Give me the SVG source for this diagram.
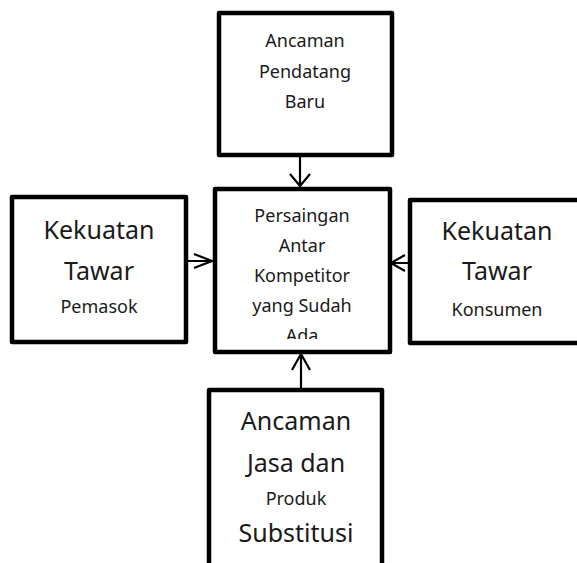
<svg xmlns="http://www.w3.org/2000/svg" width="577" height="563" viewBox="0 0 577 563">
<style>
.box{fill:#fff;stroke:#000;stroke-width:4.5;stroke-linejoin:round}
text{font-family:"Noto Sans","Open Sans",sans-serif;fill:#1a1a1a;text-anchor:middle}
.s{font-size:18px}
.l{font-size:25px}
.xl{font-size:25px}
.c{fill:none;stroke:#000;stroke-width:2.2}
</style>
<defs>
<clipPath id="cc"><rect x="217" y="191" width="171" height="148"/></clipPath>
</defs>
<rect width="577" height="563" fill="#fff"/>
<g id="top">
<rect class="box" x="219" y="13" width="173" height="142"/>
<text class="s" x="305" y="47">Ancaman</text>
<text class="s" x="305" y="78">Pendatang</text>
<text class="s" x="305" y="108">Baru</text>
</g>
<g id="center">
<rect class="box" x="215" y="189" width="175" height="163"/>
<g clip-path="url(#cc)">
<text class="s" x="302" y="222">Persaingan</text>
<text class="s" x="302" y="252">Antar</text>
<text class="s" x="302" y="282">Kompetitor</text>
<text class="s" x="302" y="312">yang Sudah</text>
<text class="s" x="302" y="342">Ada</text>
</g>
</g>
<g id="left">
<rect class="box" x="12" y="197" width="174" height="145"/>
<text class="l" x="99" y="239">Kekuatan</text>
<text class="l" x="99" y="280">Tawar</text>
<text class="s" x="99" y="313">Pemasok</text>
</g>
<g id="right">
<rect class="box" x="410" y="200" width="174" height="143"/>
<text class="l" x="497" y="240">Kekuatan</text>
<text class="l" x="497" y="280">Tawar</text>
<text class="s" x="497" y="316">Konsumen</text>
</g>
<g id="bottom">
<rect class="box" x="209" y="390" width="173" height="185"/>
<text class="xl" x="296" y="430">Ancaman</text>
<text class="xl" x="296" y="472">Jasa dan</text>
<text class="s" x="296" y="505">Produk</text>
<text class="xl" x="296" y="542">Substitusi</text>
</g>
<g id="connectors">
<path class="c" d="M300 155V186M290 174L300 186L310 174"/>
<path class="c" d="M188 261H212M194 254L212 261L194 268"/>
<path class="c" d="M408 263H391M405 255L391 263L405 271"/>
<path class="c" d="M301 388V354M292 370L301 354L310 370"/>
</g>
</svg>
